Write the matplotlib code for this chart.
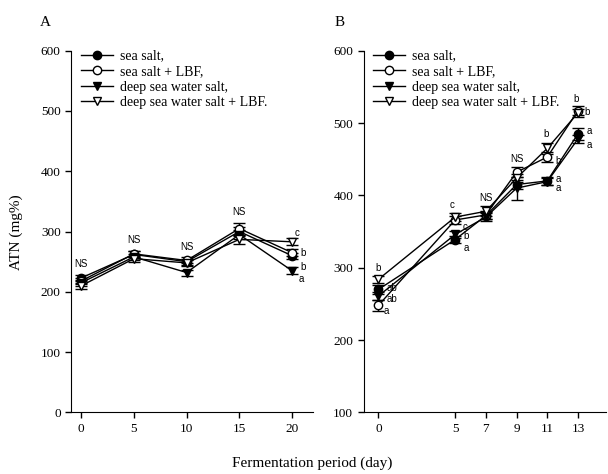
import numpy as np
import matplotlib.pyplot as plt
from matplotlib.lines import Line2D

plt.rcParams['font.family'] = ['Liberation Serif', 'DejaVu Serif']

labels = ['sea salt,', 'sea salt + LBF,', 'deep sea water salt,', 'deep sea water salt + LBF.']
markers = ['o', 'o', 'v', 'v']
fills = ['black', 'white', 'black', 'white']

# Panel A
days_a = [0, 5, 10, 15, 20]
a_vals = [
    [223, 262, 250, 300, 260],   # sea salt
    [218, 263, 252, 305, 265],   # sea salt + LBF
    [215, 258, 232, 295, 235],   # deep sea water salt
    [210, 255, 248, 287, 283],   # deep sea water salt + LBF
]
a_err = [
    [5, 5, 5, 8, 5],
    [5, 5, 5, 10, 6],
    [5, 5, 5, 8, 6],
    [5, 5, 5, 8, 6],
]
a_ns = ['NS', 'NS', 'NS', 'NS', '']
a_letters20 = ['b', 'b', 'a', 'c']

# Panel B
days_b = [0, 5, 7, 9, 11, 13]
b_vals = [
    [270, 339, 372, 415, 420, 485],
    [248, 366, 373, 432, 453, 517],
    [261, 346, 370, 410, 419, 478],
    [284, 370, 378, 424, 465, 514],
]
b_err = [
    [6, 5, 5, 6, 5, 8],
    [8, 5, 5, 7, 7, 6],
    [6, 5, 5, 16, 5, 6],
    [5, 5, 7, 6, 8, 6],
]
b_ns = ['', '', 'NS', 'NS', '', '']
b_letters = {
    0: ['ab', 'a', 'ab', 'b'],
    5: ['a', 'c', 'b', 'c'],
    11: ['a', 'b', 'a', 'b'],
    13: ['a', 'b', 'a', 'b'],
}

fig = plt.figure(figsize=(6.08, 4.74), dpi=100)
ax1 = fig.add_axes([0.117, 0.13, 0.398, 0.763])
ax2 = fig.add_axes([0.598, 0.13, 0.398, 0.763])

sans = ['Liberation Sans', 'DejaVu Sans']


def draw(ax, days, vals, errs):
    for i in range(4):
        ax.errorbar(days, vals[i], yerr=errs[i], color='black', lw=1.0,
                    marker=markers[i], mfc=fills[i], mec='black', ms=6,
                    capsize=4, elinewidth=1.0, capthick=1.0)


def style(ax):
    for s in ['top', 'right']:
        ax.spines[s].set_visible(False)
    ax.tick_params(direction='out', length=4, width=1, labelsize=9.5)
    handles = [Line2D([], [], color='black', lw=1.0, marker=markers[i],
                      mfc=fills[i], mec='black', ms=6) for i in range(4)]
    ax.legend(handles, labels, loc='upper left', bbox_to_anchor=(0.0, 1.03),
              frameon=False, fontsize=10, handlelength=2.3, handletextpad=0.5,
              labelspacing=0.18, borderaxespad=0.3)


draw(ax1, days_a, a_vals, a_err)
ax1.set_xlim(-0.95, 22)
ax1.set_ylim(0, 600)
ax1.set_xticks([0, 5, 10, 15, 20])
ax1.set_yticks(np.arange(0, 601, 100))
style(ax1)

# NS labels in A
for j, d in enumerate(days_a):
    if a_ns[j]:
        top = max(a_vals[i][j] + a_err[i][j] for i in range(4))
        ax1.annotate(a_ns[j], (d, top), xytext=(0, 4), textcoords='offset points',
                     ha='center', va='bottom', fontsize=7, family=sans)
# letters at day 20
a_off = [(6, -8), (6, 0), (5, -6), (2, 6)]
for i in range(4):
    ax1.annotate(a_letters20[i], (20, a_vals[i][4]), xytext=a_off[i],
                 textcoords='offset points', ha='left', va='center',
                 fontsize=7, family=sans)

draw(ax2, days_b, b_vals, b_err)
ax2.set_xlim(-0.97, 14.8)
ax2.set_ylim(100, 600)
ax2.set_xticks(days_b)
ax2.set_yticks(np.arange(100, 601, 100))
style(ax2)

for j, d in enumerate(days_b):
    if b_ns[j]:
        top = max(b_vals[i][j] + b_err[i][j] for i in range(4))
        ax2.annotate(b_ns[j], (d, top), xytext=(0, 2), textcoords='offset points',
                     ha='center', va='bottom', fontsize=7, family=sans)

b_off = {
    0: [(6, 1), (4, -4), (6, -2.5), (-2, 8)],
    5: [(6, -6), (5, -5), (6, -1), (-4, 9)],
    11: [(6, 1.5), (6, -3), (6, -4.5), (-3, 10)],
    13: [(6, 2), (5, -1), (6, -4), (-3, 10)],
}
for d, lets in b_letters.items():
    j = days_b.index(d)
    for i in range(4):
        ax2.annotate(lets[i], (d, b_vals[i][j]), xytext=b_off[d][i],
                     textcoords='offset points', ha='left', va='center',
                     fontsize=7, family=sans)

fig.text(0.074, 0.953, 'A', fontsize=11, ha='center', va='center')
fig.text(0.559, 0.953, 'B', fontsize=11, ha='center', va='center')
fig.text(0.026, 0.51, 'ATN (mg%)', rotation=90, fontsize=11, ha='center', va='center')
fig.text(0.513, 0.022, 'Fermentation period (day)', fontsize=11, ha='center', va='center')

fig.savefig('out.png', dpi=100)
